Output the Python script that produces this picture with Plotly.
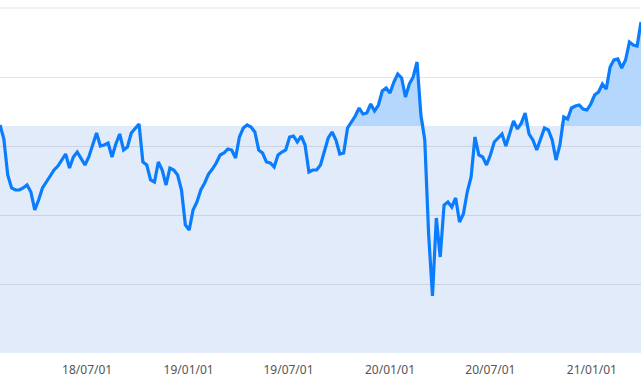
import pandas as pd
import plotly.graph_objects as go

start_date = "2018-01-24"
values = [228, 214, 178, 165, 163, 163, 165, 168, 161, 143, 153, 165, 171, 177, 183, 187, 193, 199, 185, 196,
          201, 195, 188, 196, 209, 220, 207, 208, 210, 196, 209, 219, 203, 206, 220, 225, 229, 191, 188, 173,
          171, 191, 183, 168, 185, 183, 178, 163, 128, 123, 143, 151, 163, 170, 179, 184, 190, 198, 200, 204,
          203, 195, 216, 225, 228, 226, 221, 203, 200, 191, 190, 186, 198, 201, 203, 216, 217, 211, 217, 208,
          181, 183, 183, 188, 203, 215, 221, 213, 199, 200, 225, 231, 237, 245, 239, 240, 249, 242, 248, 262,
          265, 260, 271, 279, 275, 256, 269, 276, 291, 238, 213, 119, 57, 135, 96, 148, 151, 146, 155, 131,
          139, 161, 176, 216, 198, 196, 188, 198, 211, 215, 219, 207, 220, 232, 224, 230, 240, 219, 213, 203,
          214, 225, 223, 213, 193, 208, 236, 234, 245, 247, 248, 244, 243, 249, 258, 261, 269, 264, 286, 293,
          294, 285, 293, 311, 308, 307, 331]
baseline = 227
y_max = 345
y_step = 69
tick_dates = ["2018-07-01", "2019-01-01", "2019-07-01", "2020-01-01", "2020-07-01", "2021-01-01"]
tick_labels = ["18/07/01", "19/01/01", "19/07/01", "20/01/01", "20/07/01", "21/01/01"]

dates = pd.date_range(start_date, periods=len(values), freq="7D")
above = [max(v, baseline) for v in values]

fig = go.Figure()
fig.add_trace(go.Scatter(x=dates, y=[baseline] * len(values), mode="lines",
                         line=dict(width=0, color="rgba(0,0,0,0)"), hoverinfo="skip", showlegend=False))
fig.add_trace(go.Scatter(x=dates, y=above, mode="lines", fill="tonexty",
                         fillcolor="#b5d6fd", line=dict(width=0, color="rgba(0,0,0,0)"),
                         hoverinfo="skip", showlegend=False))
fig.add_trace(go.Scatter(x=dates, y=values, mode="lines",
                         line=dict(width=3.2, color="#0a7dff"), showlegend=False))

fig.add_shape(type="rect", xref="paper", x0=0, x1=1, yref="y", y0=0, y1=baseline,
              fillcolor="#e2ebfa", line=dict(width=0), layer="below")
# top gridline (plotly drops the gridline sitting at the range edge)
fig.add_shape(type="line", xref="paper", x0=0, x1=1, yref="y", y0=y_max, y1=y_max,
              line=dict(width=1, color="rgba(0,0,0,0.1)"), layer="below")

fig.update_layout(
    width=641, height=391,
    margin=dict(l=0, r=0, t=7, b=38),
    plot_bgcolor="white", paper_bgcolor="white",
    font=dict(family="Noto Sans, sans-serif", size=12, color="#555"),
)
fig.update_xaxes(type="date", range=[dates[0], dates[-1]], tickvals=tick_dates, ticktext=tick_labels,
                 showgrid=False, zeroline=False, showline=False, ticks="outside", ticklen=6,
                 tickcolor="rgba(0,0,0,0)", tickfont=dict(size=12, color="#555"))
fig.update_yaxes(range=[0, y_max + 1], dtick=y_step, tick0=0, showticklabels=False, zeroline=False,
                 gridcolor="rgba(0,0,0,0.1)", gridwidth=1)

fig.write_html("out.html")
